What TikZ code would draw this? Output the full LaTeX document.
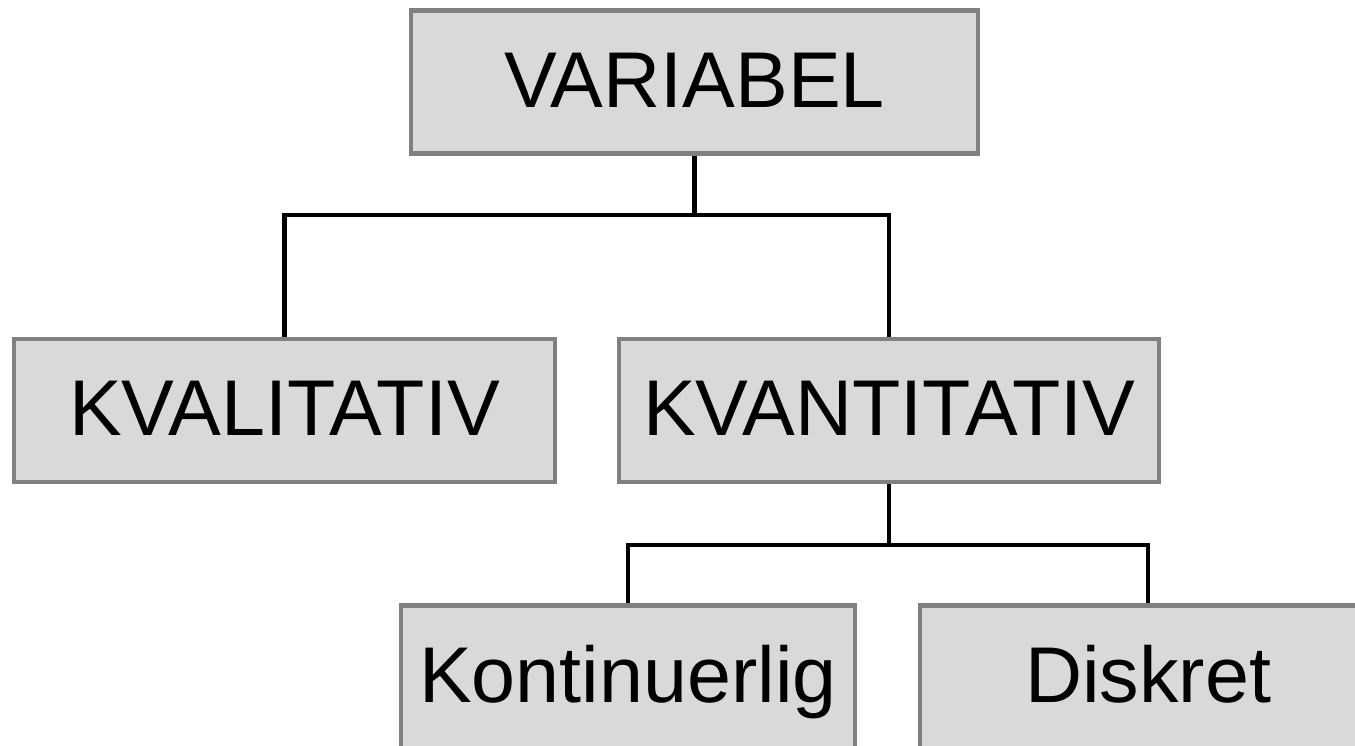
\documentclass[tikz,border=0pt]{standalone}
\usepackage{fontspec}
\setmainfont{Liberation Sans}
\definecolor{boxfill}{HTML}{D9D9D9}
\definecolor{boxline}{HTML}{808080}
\begin{document}
\begin{tikzpicture}[x=0.02cm, y=-0.02cm,
  box/.style={draw=boxline, fill=boxfill, line width=2.6pt, inner sep=0pt,
    text height=1.32cm, text depth=0.3cm,
    minimum height=2.86cm, font=\fontsize{45}{50}\selectfont},
  link/.style={draw=black, line width=2.3pt}]
\useasboundingbox (0,0) rectangle (1355,746);
\clip (0,0) rectangle (1355,746);
\node[box, minimum width=11.34cm] (var) at (694.5,82) {VARIABEL};
\node[box, minimum width=10.82cm] (kval) at (284.5,410.5) {KVALITATIV};
\node[box, minimum width=10.8cm] (kvan) at (889,410.5) {KVANTITATIV};
\node[box, minimum width=9.08cm] (kont) at (628,677) {Kontinuerlig};
\node[box, minimum width=9.12cm] (disk) at (1148,677) {Diskret};
\coordinate (j1) at (694.5,215);
\coordinate (j2) at (889,545);
\draw[link] (var.south) -- (j1);
\draw[link] (kval.north) |- (j1) -| (kvan.north);
\draw[link] (kvan.south) -- (j2);
\draw[link] (kont.north) |- (j2) -| (disk.north);
\end{tikzpicture}
\end{document}
